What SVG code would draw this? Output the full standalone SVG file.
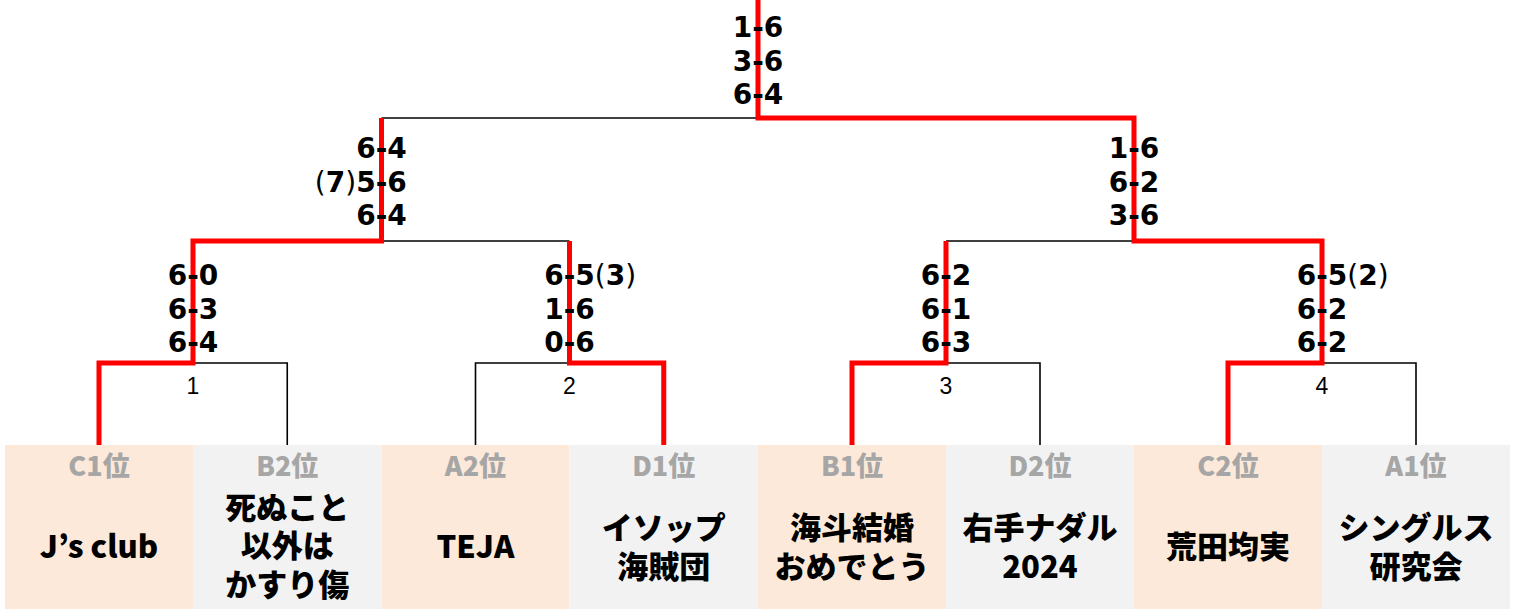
<svg xmlns="http://www.w3.org/2000/svg" width="1514" height="609" viewBox="0 0 1514 609">
<style>
.peach{fill:#FDE9D9}
.gray{fill:#F2F2F2}
.rank{font-family:"Noto Sans CJK JP","Noto Sans",sans-serif;font-weight:900;font-size:27px;fill:#A6A6A6;text-anchor:middle}
.name{font-family:"Noto Sans CJK JP","Noto Sans",sans-serif;font-weight:900;font-size:31px;fill:#000;text-anchor:middle}
.ln{fill:none;stroke:#000;stroke-width:1.6}
.win{fill:none;stroke:#FF0000;stroke-width:5;stroke-linejoin:miter}
.score{font-family:"DejaVu Sans",sans-serif;font-weight:700;font-size:28px;fill:#000}
.mid{text-anchor:middle}
.end{text-anchor:end}
.start{text-anchor:start}
.par{font-weight:400}
.num{font-family:"Liberation Sans",sans-serif;font-size:23px;fill:#000;text-anchor:middle}
</style>
<rect x="0" y="0" width="1514" height="609" fill="#FFFFFF"/>

<g id="team-c1">
<rect class="peach" x="5" y="445" width="188" height="164"/>
<text class="rank" x="99" y="476">C1位</text>
<text class="name" x="99" y="558">J’s club</text>
</g>
<g id="team-b2">
<rect class="gray" x="193" y="445" width="188.5" height="164"/>
<text class="rank" x="287.25" y="476">B2位</text>
<text class="name"><tspan x="287.25" y="519">死ぬこと</tspan><tspan x="287.25" y="557">以外は</tspan><tspan x="287.25" y="596">かすり傷</tspan></text>
</g>
<g id="team-a2">
<rect class="peach" x="381.5" y="445" width="188" height="164"/>
<text class="rank" x="475.5" y="476">A2位</text>
<text class="name" x="475.5" y="558">TEJA</text>
</g>
<g id="team-d1">
<rect class="gray" x="569.5" y="445" width="188.5" height="164"/>
<text class="rank" x="663.75" y="476">D1位</text>
<text class="name"><tspan x="663.75" y="539">イソップ</tspan><tspan x="663.75" y="578">海賊団</tspan></text>
</g>
<g id="team-b1">
<rect class="peach" x="758" y="445" width="188" height="164"/>
<text class="rank" x="852" y="476">B1位</text>
<text class="name"><tspan x="852" y="539">海斗結婚</tspan><tspan x="852" y="578">おめでとう</tspan></text>
</g>
<g id="team-d2">
<rect class="gray" x="946" y="445" width="188" height="164"/>
<text class="rank" x="1040" y="476">D2位</text>
<text class="name"><tspan x="1040" y="539">右手ナダル</tspan><tspan x="1040" y="578">2024</tspan></text>
</g>
<g id="team-c2">
<rect class="peach" x="1134" y="445" width="188" height="164"/>
<text class="rank" x="1228" y="476">C2位</text>
<text class="name" x="1228" y="558">荒田均実</text>
</g>
<g id="team-a1">
<rect class="gray" x="1322" y="445" width="188" height="164"/>
<text class="rank" x="1416" y="476">A1位</text>
<text class="name"><tspan x="1416" y="539">シングルス</tspan><tspan x="1416" y="578">研究会</tspan></text>
</g>

<g id="connectors">
<path class="ln" d="M193 363 H287.25 V445"/>
<path class="ln" d="M475.5 445 V363 H569.5"/>
<path class="ln" d="M946 363 H1040 V445"/>
<path class="ln" d="M1322 363 H1416 V445"/>
<path class="ln" d="M381.5 241 H569.5"/>
<path class="ln" d="M946 241 H1134"/>
<path class="ln" d="M381.5 118 H758"/>
<path class="win" d="M99 445 V363 H193 V241 H381.5 V118"/>
<path class="win" d="M663.75 445 V363 H569.5 V241"/>
<path class="win" d="M852 445 V363 H946 V241"/>
<path class="win" d="M1228 445 V363 H1322 V241 H1134 V118 H758 V0"/>
</g>

<g id="match-numbers">
<text class="num" x="193" y="394">1</text>
<text class="num" x="569.5" y="394">2</text>
<text class="num" x="946" y="394">3</text>
<text class="num" x="1322" y="394">4</text>
</g>

<g id="scores">
<text class="score mid" x="758" y="37">1-6</text>
<text class="score mid" x="758" y="71">3-6</text>
<text class="score mid" x="758" y="104">6-4</text>

<text class="score mid" x="381.5" y="158">6-4</text>
<text class="score end" x="406.8" y="192"><tspan class="par">(</tspan>7<tspan class="par">)</tspan>5-6</text>
<text class="score mid" x="381.5" y="225">6-4</text>

<text class="score mid" x="1134" y="158">1-6</text>
<text class="score mid" x="1134" y="192">6-2</text>
<text class="score mid" x="1134" y="225">3-6</text>

<text class="score mid" x="193" y="285">6-0</text>
<text class="score mid" x="193" y="318.5">6-3</text>
<text class="score mid" x="193" y="352">6-4</text>

<text class="score start" x="544.2" y="285">6-5<tspan class="par">(</tspan>3<tspan class="par">)</tspan></text>
<text class="score mid" x="569.5" y="318.5">1-6</text>
<text class="score mid" x="569.5" y="352">0-6</text>

<text class="score mid" x="946" y="285">6-2</text>
<text class="score mid" x="946" y="318.5">6-1</text>
<text class="score mid" x="946" y="352">6-3</text>

<text class="score start" x="1296.7" y="285">6-5<tspan class="par">(</tspan>2<tspan class="par">)</tspan></text>
<text class="score mid" x="1322" y="318.5">6-2</text>
<text class="score mid" x="1322" y="352">6-2</text>
</g>
</svg>
